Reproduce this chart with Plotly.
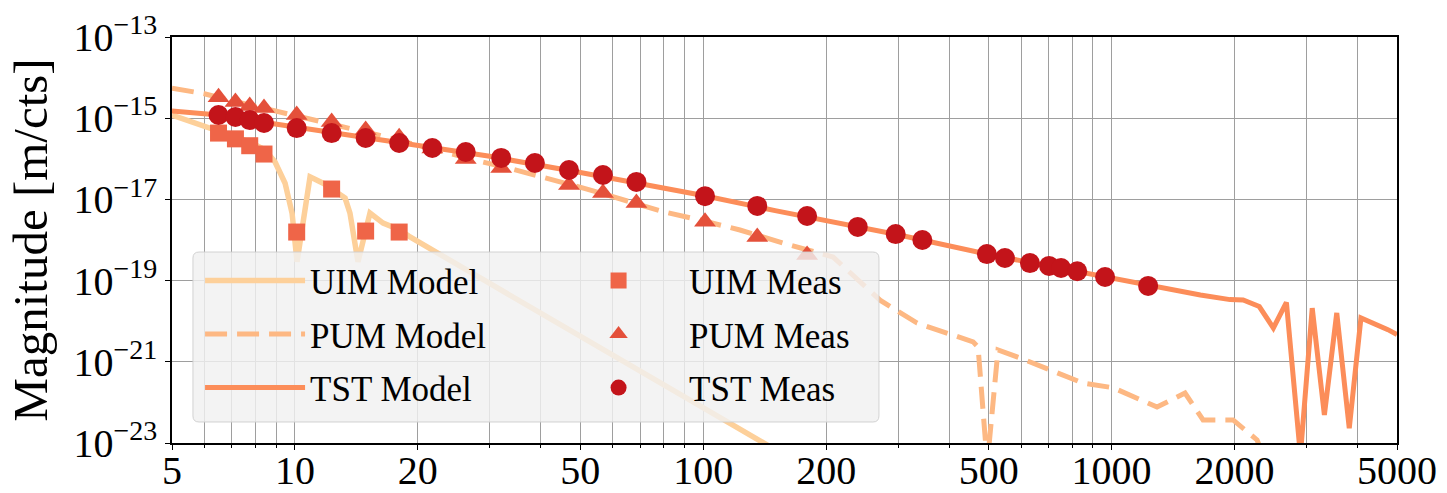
import plotly.graph_objects as go

# ---------------- data ----------------
meas_f = [6.5, 7.15, 7.75, 8.4, 10.1, 12.3, 14.9, 18.0, 21.7, 26.2, 32.0, 38.7, 46.9,
          56.8, 68.6, 101, 135.6, 179.6, 239, 296, 344, 495, 548, 631, 703, 752, 824,
          964, 1229]
tst_meas = [1.2e-15, 1.07e-15, 9.0e-16, 7.6e-16, 5.7e-16, 4.3e-16, 3.25e-16, 2.45e-16,
            1.85e-16, 1.47e-16, 1.05e-16, 7.9e-17, 5.3e-17, 4.0e-17, 2.7e-17, 1.2e-17,
            6.9e-18, 3.9e-18, 2.1e-18, 1.4e-18, 1.0e-18, 4.5e-19, 3.6e-19, 2.7e-19,
            2.3e-19, 2.04e-19, 1.7e-19, 1.23e-19, 7.4e-20]

pum_f = [6.5, 7.15, 7.75, 8.4, 10.1, 12.3, 14.9, 18.0, 21.7, 26.2, 32.0, 46.9, 56.8,
         68.6, 101, 135.6, 179.6]
pum_meas = [3.3e-15, 2.5e-15, 2.0e-15, 1.78e-15, 1.2e-15, 8.1e-16, 5.1e-16, 3.4e-16,
            1.8e-16, 9.9e-17, 5.9e-17, 2.26e-17, 1.44e-17, 8.1e-18, 2.8e-18, 1.19e-18,
            4.3e-19]

uim_f = [6.5, 7.15, 7.75, 8.4, 10.1, 12.3, 14.9, 18.0]
uim_meas = [4.3e-16, 3.1e-16, 2.1e-16, 1.31e-16, 1.57e-18, 1.8e-17, 1.66e-18, 1.57e-18]

uim_model_f = [5.0, 6.37, 7.76, 8.45, 8.94, 9.46, 9.84, 10.12, 10.89, 11.72, 13.27,
               13.64, 14.27, 15.27, 16.44, 18.09, 19.14, 30, 50, 80, 139.3, 160]
uim_model = [1.2e-15, 5.1e-16, 2.6e-16, 1.65e-16, 8.3e-17, 2.5e-17, 4.6e-18, 2.9e-19,
             3.6e-17, 2.5e-17, 1.08e-17, 4.6e-18, 2.9e-19, 4.6e-18, 2.6e-18, 1.76e-18,
             1.19e-18, 8.5e-20, 4.3e-21, 2.7e-22, 1.06e-23, 4.7e-24]

pum_model_f = [5.0, 6.0, 7.0, 9.14, 10.12, 13.27, 16.07, 28.9, 33.6, 51.9, 79.7, 98.2,
               123, 156.8, 179.6, 208, 271, 334, 458, 471, 496, 527, 597, 707, 851,
               1008, 1292, 1513, 1675, 1984, 2271, 2512]
pum_model = [5.5e-15, 4.0e-15, 2.7e-15, 1.42e-15, 1.15e-15, 5.9e-16, 3.8e-16, 8.3e-17,
             5.8e-17, 1.8e-17, 5.0e-18, 3.1e-18, 1.76e-18, 8.4e-19, 5.7e-19, 3.8e-19,
             3.3e-20, 9.0e-21, 3.1e-21, 2.3e-21, 3e-24, 1.95e-21, 1.24e-21, 6.3e-22,
             3.0e-22, 2.3e-22, 7.7e-23, 1.7e-22, 3.7e-23, 3.7e-23, 1.19e-23, 1e-24]

tst_model_f = [5, 6.5, 8, 10, 15, 20, 30, 50, 70, 100, 150, 200, 300, 500, 700, 1000,
               1500, 1650, 1950, 2100, 2300, 2490, 2680, 2900, 3100, 3320, 3560, 3820,
               4080, 4390, 4750, 5000]
tst_model = [1.5e-15, 1.2e-15, 8.5e-16, 6.0e-16, 3.2e-16, 2.1e-16, 1.15e-16, 4.6e-17,
             2.5e-17, 1.25e-17, 5.3e-18, 3.0e-18, 1.35e-18, 4.4e-19, 2.3e-19, 1.15e-19,
             5.1e-20, 4.4e-20, 3.4e-20, 3.35e-20, 2.3e-20, 6.8e-21, 2.9e-20, 5e-24,
             2.1e-20, 4.9e-23, 1.6e-20, 2.3e-23, 1.2e-20, 9e-21, 6.2e-21, 4.7e-21]

x_tickvals = [5, 10, 20, 50, 100, 200, 500, 1000, 2000, 5000]
x_ticktext = ["5", "10", "20", "50", "100", "200", "500", "1000", "2000", "5000"]
x_minor = [6, 7, 8, 9, 30, 40, 60, 70, 80, 90, 300, 400, 600, 700, 800, 900,
           3000, 4000]
y_tickvals = [1e-23, 1e-21, 1e-19, 1e-17, 1e-15, 1e-13]
y_ticktext = ["10<sup>\u221223</sup>", "10<sup>\u221221</sup>", "10<sup>\u221219</sup>",
              "10<sup>\u221217</sup>", "10<sup>\u221215</sup>", "10<sup>\u221213</sup>"]

# ---------------- colours ----------------
c_uim_model = "#fdd09a"
c_pum_model = "#fdb883"
c_tst_model = "#fc8d59"
c_uim_meas = "#ef6548"
c_pum_meas = "#e4503a"
c_tst_meas = "#c3141a"

FONT = "Liberation Serif"
GRID = "#9e9e9e"

fig = go.Figure()

fig.add_trace(go.Scatter(x=uim_model_f, y=uim_model, mode="lines", name="UIM Model",
                         line=dict(color=c_uim_model, width=5.5), legend="legend",
                         legendgroup="a"))
fig.add_trace(go.Scatter(x=pum_model_f, y=pum_model, mode="lines", name="PUM Model",
                         line=dict(color=c_pum_model, width=5, dash="22px,10px"),
                         legend="legend", legendgroup="b"))
fig.add_trace(go.Scatter(x=tst_model_f, y=tst_model, mode="lines", name="TST Model",
                         line=dict(color=c_tst_model, width=5), legend="legend",
                         legendgroup="c"))

fig.add_trace(go.Scatter(x=uim_f, y=uim_meas, mode="markers", name="UIM Meas",
                         marker=dict(symbol="square", size=17, color=c_uim_meas),
                         error_y=dict(type="percent", value=3, color=c_uim_meas,
                                      thickness=2, width=0),
                         legend="legend2", legendgroup="d"))
fig.add_trace(go.Scatter(x=pum_f, y=pum_meas, mode="markers", name="PUM Meas",
                         marker=dict(symbol="triangle-up", size=19, color=c_pum_meas),
                         error_y=dict(type="percent", value=3, color=c_pum_meas,
                                      thickness=2, width=0),
                         legend="legend2", legendgroup="e"))
fig.add_trace(go.Scatter(x=meas_f, y=tst_meas, mode="markers", name="TST Meas",
                         marker=dict(symbol="circle", size=20, color=c_tst_meas),
                         error_y=dict(type="percent", value=3, color=c_tst_meas,
                                      thickness=2, width=0),
                         legend="legend2", legendgroup="f"))

# legend background box (matplotlib-style frame)
bx0, bx1, by0, by1 = 0.0171, 0.5771, 0.0517, 0.4704
rx, ry = 0.005, 0.015
path = (f"M{bx0+rx},{by0} L{bx1-rx},{by0} Q{bx1},{by0} {bx1},{by0+ry} "
        f"L{bx1},{by1-ry} Q{bx1},{by1} {bx1-rx},{by1} L{bx0+rx},{by1} "
        f"Q{bx0},{by1} {bx0},{by1-ry} L{bx0},{by0+ry} Q{bx0},{by0} {bx0+rx},{by0} Z")
fig.add_shape(type="path", path=path, xref="paper", yref="paper", layer="above",
              fillcolor="rgba(240,240,240,0.82)",
              line=dict(color="rgba(205,205,205,0.9)", width=1))

axis_common = dict(showline=True, linecolor="black", linewidth=1.5, mirror=True,
                   gridcolor=GRID, gridwidth=1, ticks="outside",
                   ticklen=5, tickcolor="black",
                   tickfont=dict(family=FONT, size=40, color="black"))

fig.update_xaxes(type="log", range=[0.69897, 3.69897], tickvals=x_tickvals,
                 ticktext=x_ticktext, showgrid=True, ticklabelstandoff=-14,
                 minor=dict(tickvals=x_minor, showgrid=True, gridcolor=GRID,
                            gridwidth=1, ticks="outside", ticklen=3,
                            tickcolor="black"),
                 **axis_common)
fig.update_yaxes(type="log", range=[-23, -13], tickvals=y_tickvals,
                 ticktext=y_ticktext, showgrid=True,
                 title=dict(text="Magnitude [m/cts]",
                            font=dict(family=FONT, size=49, color="black"),
                            standoff=10),
                 **axis_common)

legend_common = dict(bgcolor="rgba(0,0,0,0)", borderwidth=0,
                     font=dict(family=FONT, size=35, color="black"),
                     tracegroupgap=5, xanchor="left", yanchor="top",
                     orientation="v")

fig.update_layout(
    width=1447, height=493,
    margin=dict(l=172, r=50, t=37, b=50, autoexpand=False),
    paper_bgcolor="white", plot_bgcolor="white",
    showlegend=True,
    legend=dict(x=0.0229, y=0.472, itemwidth=100, **legend_common),
    legend2=dict(x=0.307, y=0.472, itemwidth=131, **legend_common),
)

fig.write_html("out.html")
